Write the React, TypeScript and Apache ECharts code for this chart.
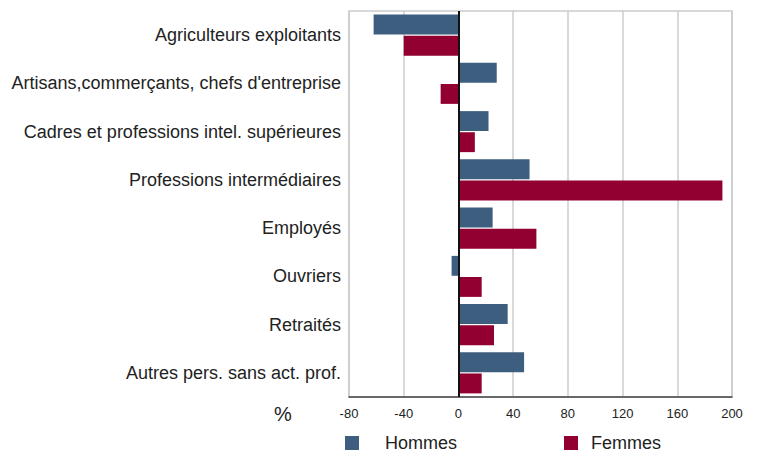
import React, { useEffect, useRef } from "react";
import * as echarts from "echarts";

const categories = [
  "Agriculteurs exploitants",
  "Artisans,commerçants, chefs d'entreprise",
  "Cadres et professions intel. supérieures",
  "Professions intermédiaires",
  "Employés",
  "Ouvriers",
  "Retraités",
  "Autres pers. sans act. prof.",
];
const hommes = [-62, 28, 22, 52, 25, -5, 36, 48];
const femmes = [-40, -13, 12, 193, 57, 17, 26, 17];
const seriesNames = ["Hommes", "Femmes"];
const colors = ["#3d5e7e", "#910030"];

export default function App() {
  const ref = useRef<HTMLDivElement>(null);
  useEffect(() => {
    document.body.style.margin = "0";
    const chart = echarts.init(ref.current!, null, { renderer: "svg" });
    const font = "'Liberation Sans', Arial, sans-serif";
    const legendText = (pad: number) => ({
      fontSize: 18,
      lineHeight: 18,
      color: "#222",
      fontFamily: font,
      padding: [0, 0, 0, pad],
    });
    chart.setOption({
      animation: false,
      textStyle: { fontFamily: font },
      grid: {
        left: 349,
        right: 26,
        top: 11,
        bottom: 55,
        show: true,
        borderColor: "#cccccc",
        borderWidth: 1.5,
      },
      legend: [
        {
          data: [seriesNames[0]],
          left: 340,
          top: 429,
          itemWidth: 14,
          itemHeight: 14,
          icon: "rect",
          textStyle: legendText(21),
        },
        {
          data: [seriesNames[1]],
          left: 559,
          top: 429,
          itemWidth: 14,
          itemHeight: 14,
          icon: "rect",
          textStyle: legendText(8),
        },
      ],
      graphic: [
        {
          type: "text",
          left: 274,
          top: 404,
          style: { text: "%", fontSize: 20, fill: "#222", fontFamily: font },
        },
      ],
      xAxis: {
        type: "value",
        min: -80,
        max: 200,
        interval: 40,
        axisLine: { show: true, lineStyle: { color: "#444", width: 1.5 } },
        axisTick: { show: false },
        axisLabel: { fontSize: 13, color: "#222", margin: 10 },
        splitLine: { show: true, lineStyle: { color: "#cccccc", width: 1.5 } },
      },
      yAxis: {
        type: "category",
        data: categories,
        inverse: true,
        axisLine: { show: false },
        axisTick: { show: false },
        axisLabel: { fontSize: 18, color: "#222", margin: 8 },
        splitLine: { show: false },
      },
      series: [
        {
          name: seriesNames[0],
          type: "bar",
          data: hommes,
          itemStyle: { color: colors[0] },
          barGap: "6%",
          barCategoryGap: "15%",
          markLine: {
            silent: true,
            symbol: "none",
            label: { show: false },
            lineStyle: { color: "#111", width: 2, type: "solid" },
            data: [{ xAxis: 0 }],
          },
        },
        {
          name: seriesNames[1],
          type: "bar",
          data: femmes,
          itemStyle: { color: colors[1] },
          barGap: "6%",
          barCategoryGap: "15%",
        },
      ],
    });
    return () => chart.dispose();
  }, []);
  return <div ref={ref} style={{ width: 758, height: 452 }} />;
}
